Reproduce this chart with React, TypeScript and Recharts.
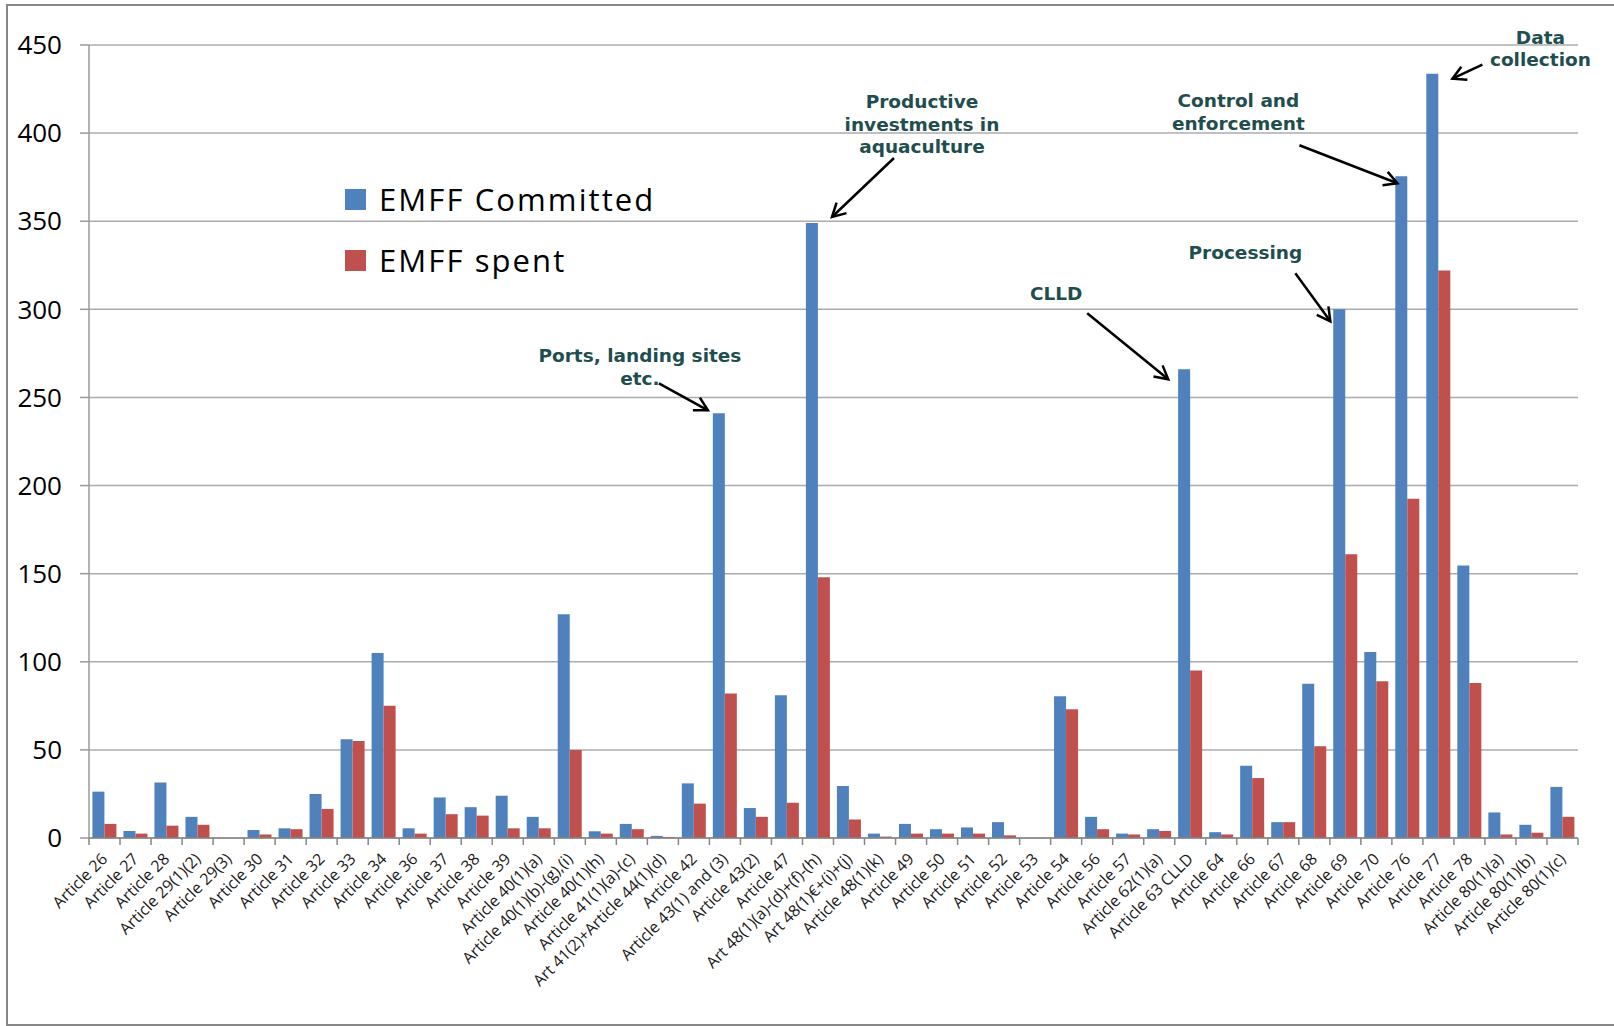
import { BarChart, Bar, XAxis, YAxis, CartesianGrid, Legend, ReferenceDot } from 'recharts'

const categories = [
  'Article 26', 'Article 27', 'Article 28', 'Article 29(1)(2)', 'Article 29(3)', 'Article 30',
  'Article 31', 'Article 32', 'Article 33', 'Article 34', 'Article 36', 'Article 37',
  'Article 38', 'Article 39', 'Article 40(1)(a)', 'Article 40(1)(b)-(g),(i)', 'Article 40(1)(h)',
  'Article 41(1)(a)-(c)', 'Art 41(2)+Article 44(1)(d)', 'Article 42', 'Article 43(1) and (3)',
  'Article 43(2)', 'Article 47', 'Art 48(1)(a)-(d)+(f)-(h)', 'Art 48(1)€+(i)+(j)', 'Article 48(1)(k)',
  'Article 49', 'Article 50', 'Article 51', 'Article 52', 'Article 53', 'Article 54',
  'Article 56', 'Article 57', 'Article 62(1)(a)', 'Article 63 CLLD', 'Article 64', 'Article 66',
  'Article 67', 'Article 68', 'Article 69', 'Article 70', 'Article 76', 'Article 77',
  'Article 78', 'Article 80(1)(a)', 'Article 80(1)(b)', 'Article 80(1)(c)',
]

const committed = [
  26.3, 4, 31.5, 12, 0, 4.5,
  5.5, 25, 56, 105, 5.5, 23,
  17.5, 24, 12, 127, 3.8,
  8, 1.2, 31, 241,
  17, 81, 349, 29.5, 2.5,
  8, 5, 6, 9, 0, 80.5,
  12, 2.5, 5, 266, 3.3, 41,
  9, 87.5, 300, 105.5, 375.5, 433.7,
  154.7, 14.5, 7.5, 29,
]

const spent = [
  8, 2.5, 7, 7.5, 0, 2,
  5, 16.5, 55, 75, 2.5, 13.5,
  12.7, 5.5, 5.5, 50, 2.5,
  5, 0.6, 19.5, 82,
  12, 20, 148, 10.5, 0.8,
  2.5, 2.5, 2.5, 1.5, 0, 73,
  5, 2, 4, 95, 2, 34,
  9, 52, 161, 89, 192.5, 322,
  88, 2, 3, 12,
]

const yTicks = [0, 50, 100, 150, 200, 250, 300, 350, 400, 450]

// callouts: category, value at the arrow tip, label lines
const notes = [
  { cat: 'Article 43(1) and (3)', value: 241, lines: ['Ports, landing sites', 'etc.'], tip: [-17, -3], tail: [-49, -27], label: [-19, -5] },
  { cat: 'Art 48(1)(a)-(d)+(f)-(h)', value: 349, lines: ['Productive', 'investments in', 'aquaculture'], tip: [14, -6], tail: [62, -59], label: [28, -11] },
  { cat: 'Article 63 CLLD', value: 266, lines: ['CLLD'], tip: [-22, 10], tail: [-81, -66], label: [-31, -20] },
  { cat: 'Article 69', value: 300, lines: ['Processing'], tip: [-15, 12], tail: [-35, -48], label: [-50, -21] },
  { cat: 'Article 76', value: 375.5, lines: ['Control and', 'enforcement'], tip: [-10, 7], tail: [-98, -38], label: [-61, -22] },
  { cat: 'Article 77', value: 433.7, lines: ['Data', 'collection'], tip: [14, 5], tail: [30, -14], label: [58, -5] },
]

const data = categories.map((name, i) => ({ name, committed: committed[i], spent: spent[i] }))

const W = 1614
const H = 1026
const M = { top: 45, right: 36, left: 0, bottom: 0 }
const Y_W = 89
const X_H = 188
const BAND = (W - Y_W - M.right) / categories.length

const XTick = (props: any) => {
  const { x, y, payload, index } = props
  const left = x - BAND / 2
  const ax = x + 4
  const ay = y + 22
  return (
    <g>
      <line x1={left} x2={left} y1={y} y2={y + 7} stroke="#868686" strokeWidth={1.5} />
      {index === categories.length - 1 && (
        <line x1={x + BAND / 2} x2={x + BAND / 2} y1={y} y2={y + 7} stroke="#868686" strokeWidth={1.5} />
      )}
      <text
        x={ax}
        y={ay}
        textAnchor="end"
        transform={`rotate(-45, ${ax}, ${ay})`}
        fontSize={16}
        fontFamily="'Open Sans', sans-serif"
        fill="#1a1a1a"
      >
        {payload.value}
      </text>
    </g>
  )
}

const Note = (props: any) => {
  const { cx, cy, note } = props
  if (cx == null || cy == null) return null
  const tx = cx + note.tip[0]
  const ty = cy + note.tip[1]
  const sx = tx + note.tail[0]
  const sy = ty + note.tail[1]
  const ang = Math.atan2(ty - sy, tx - sx)
  const len = 15
  const spread = 0.5
  const a1x = tx - len * Math.cos(ang - spread)
  const a1y = ty - len * Math.sin(ang - spread)
  const a2x = tx - len * Math.cos(ang + spread)
  const a2y = ty - len * Math.sin(ang + spread)
  const lx = sx + note.label[0]
  const ly = sy + note.label[1]
  return (
    <g>
      <line x1={sx} y1={sy} x2={tx} y2={ty} stroke="#000" strokeWidth={2.5} />
      <polyline points={`${a1x},${a1y} ${tx},${ty} ${a2x},${a2y}`} fill="none" stroke="#000" strokeWidth={2.5} />
      {note.lines.map((t: string, i: number) => (
        <text
          key={i}
          x={lx}
          y={ly + (i - note.lines.length + 1) * 22.5}
          textAnchor="middle"
          dominantBaseline="central"
          fontSize={18.5}
          fontWeight="bold"
          fontFamily="'DejaVu Sans', Verdana, sans-serif"
          fill="#1f4e4f"
        >
          {t}
        </text>
      ))}
    </g>
  )
}

const LegendBox = () => (
  <div style={{ fontFamily: "'Open Sans', sans-serif", fontSize: 31, letterSpacing: 2.1, color: '#000' }}>
    {[
      { label: 'EMFF Committed', color: '#4f81bd' },
      { label: 'EMFF spent', color: '#c0504d' },
    ].map((r) => (
      <div key={r.label} style={{ display: 'flex', alignItems: 'center', height: 61, whiteSpace: 'nowrap' }}>
        <span style={{ width: 21, height: 21, background: r.color, display: 'inline-block', marginRight: 13, flex: 'none' }} />
        <span style={{ lineHeight: '61px' }}>{r.label}</span>
      </div>
    ))}
  </div>
)

export default function App() {
  return (
    <div style={{ position: 'absolute', left: 0, top: 0, width: W, height: H, background: '#fff', overflow: 'hidden' }}>
      <div
        style={{
          position: 'absolute',
          left: 6,
          top: 4,
          width: W,
          height: H - 4,
          border: '2px solid #878787',
          boxSizing: 'border-box',
        }}
      />
      <BarChart
        width={W}
        height={H}
        data={data}
        margin={M}
        barCategoryGap="11%"
        barGap={0}
        style={{ position: 'absolute', left: 0, top: 0 }}
      >
        <CartesianGrid vertical={false} stroke="#acacac" strokeWidth={1.5} />
        <XAxis
          dataKey="name"
          interval={0}
          height={X_H}
          tick={<XTick />}
          tickLine={false}
          tickSize={0}
          tickMargin={0}
          axisLine={{ stroke: '#868686', strokeWidth: 1.5 }}
        />
        <YAxis
          width={Y_W}
          domain={[0, 450]}
          ticks={yTicks}
          interval={0}
          tickSize={9}
          tickMargin={18}
          axisLine={{ stroke: '#9a9a9a', strokeWidth: 1.5 }}
          tickLine={{ stroke: '#9a9a9a', strokeWidth: 1.5 }}
          tick={{ fontSize: 26, fill: '#000', fontFamily: "'Open Sans', sans-serif" }}
        />
        <Legend
          content={<LegendBox />}
          layout="vertical"
          verticalAlign="middle"
          align="center"
          wrapperStyle={{ left: 345, top: 169, width: 380 }}
        />
        <Bar dataKey="committed" name="EMFF Committed" fill="#4f81bd" isAnimationActive={false} />
        <Bar dataKey="spent" name="EMFF spent" fill="#c0504d" isAnimationActive={false} />
        {notes.map((n) => (
          <ReferenceDot
            key={n.cat}
            x={n.cat}
            y={n.value}
            r={0}
            ifOverflow="visible"
            shape={(p: any) => <Note {...p} note={n} />}
          />
        ))}
      </BarChart>
    </div>
  )
}
